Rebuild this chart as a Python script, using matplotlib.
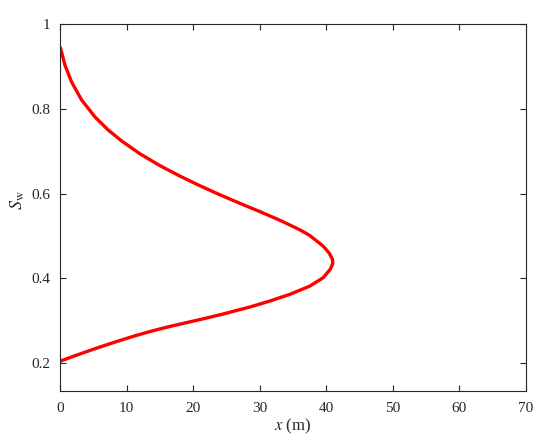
import matplotlib
matplotlib.use("Agg")
import matplotlib.pyplot as plt

# 读图得到的含水饱和度剖面 (x, Sw)
x_m = [0.0, 0.105, 0.751, 1.758, 3.26, 5.26, 7.26, 9.27, 12.02, 15.02, 18.03,
       21.03, 24.03, 27.04, 30.04, 33.05, 36.05, 37.55, 39.55, 40.45, 40.95,
       41.0, 40.6, 39.55, 37.55, 34.55, 31.55, 28.54, 24.03, 20.53, 17.02,
       15.28, 13.52, 11.27, 8.26, 5.26, 2.25, 0.255, 0.0]
sw = [0.946, 0.9428, 0.9035, 0.8632, 0.8211, 0.7811, 0.7501, 0.7244, 0.6941,
      0.6662, 0.6415, 0.6187, 0.5974, 0.5772, 0.5577, 0.5372, 0.5147, 0.5012,
      0.4762, 0.4600, 0.4450, 0.4350, 0.4212, 0.4016, 0.3819, 0.3624, 0.3466,
      0.3325, 0.3140, 0.3010, 0.2884, 0.2818, 0.2746, 0.2645, 0.2497, 0.2341,
      0.2175, 0.2059, 0.2045]

x_ticks = [0, 10, 20, 30, 40, 50, 60, 70]
y_ticks = [0.2, 0.4, 0.6, 0.8, 1.0]
y_tick_labels = ["0.2", "0.4", "0.6", "0.8", "1"]

plt.rcParams["font.family"] = ["Liberation Serif", "DejaVu Serif"]
plt.rcParams["mathtext.fontset"] = "stix"

fig = plt.figure(figsize=(5.5, 4.48), dpi=100)
ax = fig.add_axes([0.109, 0.127, 0.847, 0.819])

ax.plot(x_m, sw, color="#ff0000", linewidth=2.4, solid_joinstyle="round",
        solid_capstyle="butt")

ax.set_xlim(0, 70)
ax.set_ylim(0.134, 1.0)
ax.set_xticks(x_ticks)
ax.set_yticks(y_ticks)
ax.set_yticklabels(y_tick_labels)

ax.tick_params(direction="in", top=True, right=True, length=4, width=0.8,
               labelsize=11, colors="#262626")
ax.tick_params(axis="x", pad=8)
ax.tick_params(axis="y", pad=7)
for s in ax.spines.values():
    s.set_color("#262626")
    s.set_linewidth(0.8)

ax.set_xlabel("$x$ (m)", fontsize=12, color="#262626", labelpad=1)
ax.set_ylabel(r"$S_\mathrm{w}$", fontsize=13, color="#262626", labelpad=4)
ax.yaxis.set_label_coords(-0.07, 0.52)

fig.savefig("out.png", dpi=100)
